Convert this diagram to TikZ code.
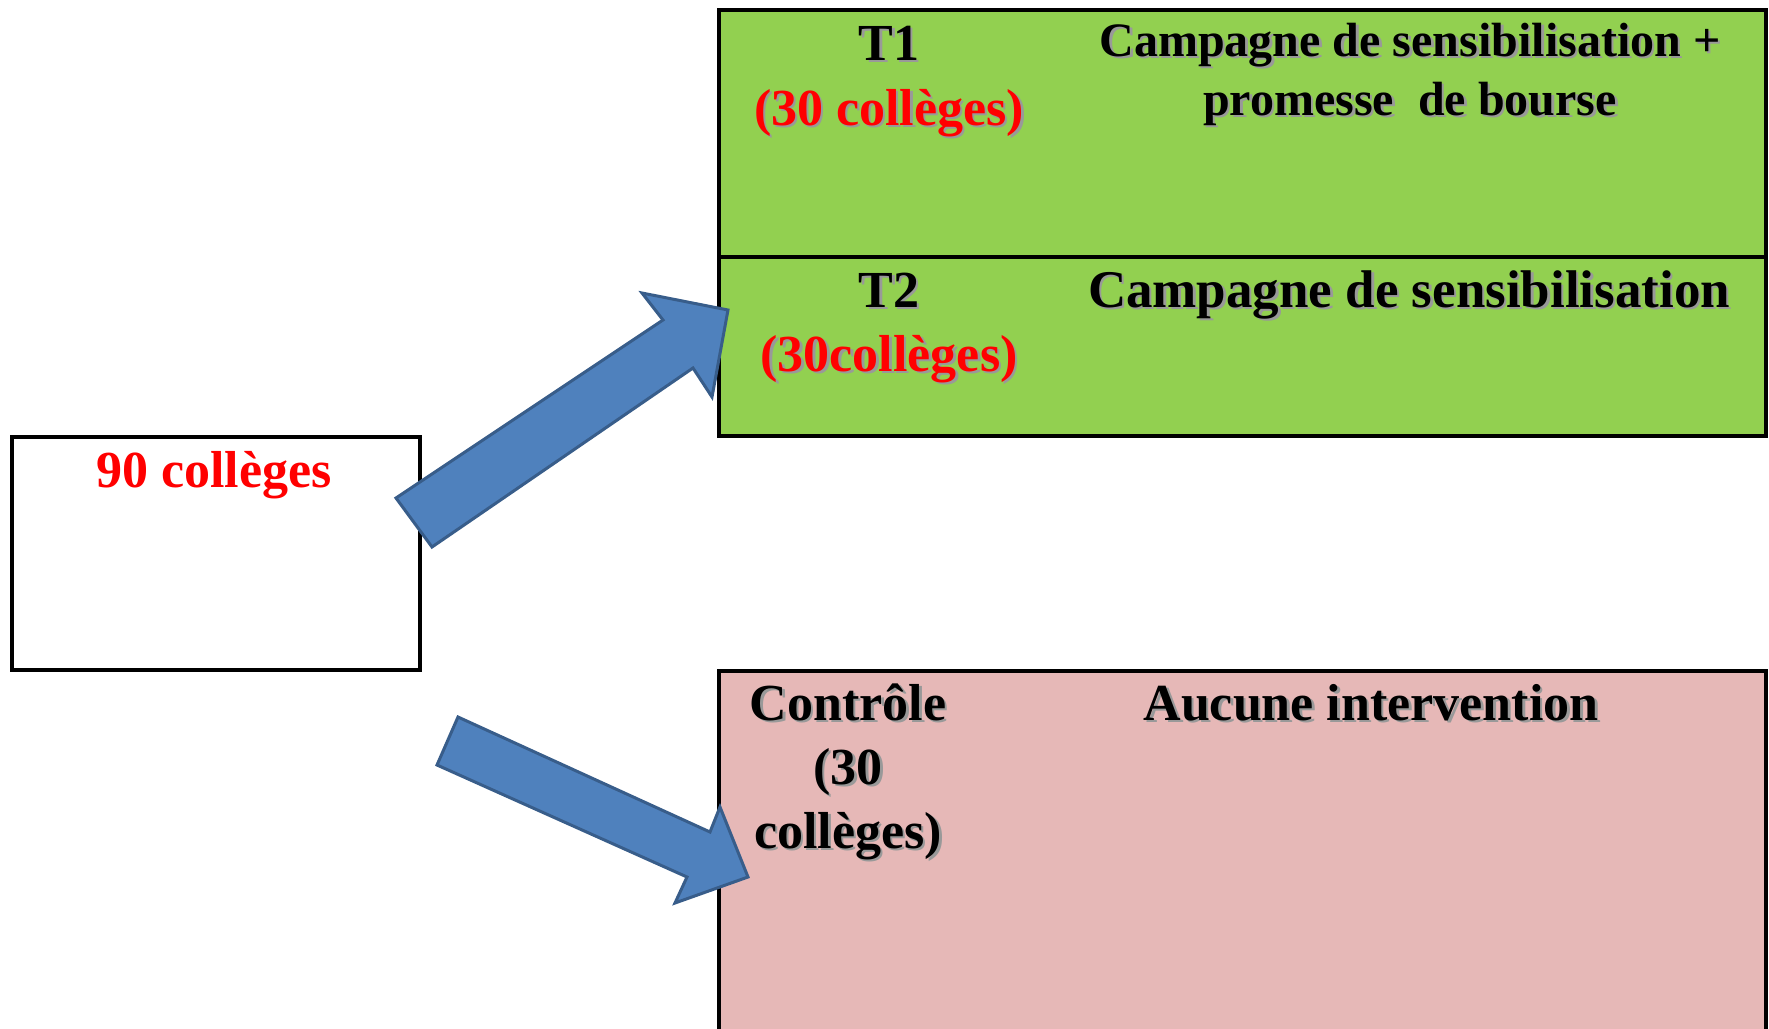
\documentclass[tikz,border=0pt]{standalone}
\usepackage{fontspec}
\setmainfont{Liberation Serif}
\definecolor{grn}{HTML}{92D050}
\definecolor{pnk}{HTML}{E6B8B7}
\definecolor{arrfill}{HTML}{4F81BD}
\definecolor{arrline}{HTML}{385D8A}
\definecolor{redtxt}{HTML}{FF0000}
\newcommand{\shd}[1]{\leavevmode\rlap{\kern2.5pt\raisebox{-2.5pt}{\textcolor{black!40}{#1}}}#1}
\begin{document}
\begin{tikzpicture}[x=1pt,y=-1pt,
  boxst/.style={draw=black,line width=3.5pt,inner sep=0pt,anchor=north west},
  txt/.style={inner sep=0pt,anchor=base,align=center,font=\fontsize{52}{64}\selectfont\bfseries},
  blockarrow/.style={fill=arrfill,draw=arrline,line width=3pt,line join=miter}]
\useasboundingbox (0,0) rectangle (1769,1028);
% boxes
\node[boxst,minimum width=408pt,minimum height=233pt] (src) at (10,435) {};
\node[boxst,fill=grn,minimum width=1047pt,minimum height=247pt] (t1) at (717,8) {};
\node[boxst,fill=grn,minimum width=1047pt,minimum height=179pt] (t2) at (717,255) {};
\node[boxst,fill=pnk,minimum width=1047pt,minimum height=380pt] (ctrl) at (717,669) {};
% arrows
\coordinate (ua1) at (396,498);
\coordinate (ua2) at (432,547);
\coordinate (ua3) at (693,368);
\coordinate (ua4) at (712,397);
\coordinate (uatip) at (728,310);
\coordinate (ua5) at (642,293);
\coordinate (ua6) at (663,320);
\draw[blockarrow] (ua1) -- (ua2) -- (ua3) -- (ua4) -- (uatip) -- (ua5) -- (ua6) -- cycle;
\coordinate (da1) at (458,717);
\coordinate (da2) at (710,832);
\coordinate (da3) at (720,807);
\coordinate (datip) at (748,877);
\coordinate (da4) at (675,903);
\coordinate (da5) at (687,877);
\coordinate (da6) at (437,765);
\draw[blockarrow] (da1) -- (da2) -- (da3) -- (datip) -- (da4) -- (da5) -- (da6) -- cycle;
% texts
\node[txt,text=redtxt] (srct) at (214,487) {90 collèges};
\node[txt] (t1a) at (889,125) {\shd{T1}\\[1pt]\textcolor{redtxt}{\shd{(30 collèges)}}};
\node[txt,font=\fontsize{48}{59}\selectfont\bfseries] (t1b) at (1410,115) {\shd{Campagne de sensibilisation +}\\\shd{promesse\ \ de bourse}};
\node[txt] (t2a) at (889,371) {\shd{T2}\\\textcolor{redtxt}{\shd{(30collèges)}}};
\node[txt,font=\fontsize{53}{64}\selectfont\bfseries] (t2b) at (1409,307) {\shd{Campagne de sensibilisation}};
\node[txt] (ca) at (848,848) {\shd{Contrôle}\\\shd{(30}\\\shd{collèges)}};
\node[txt] (cb) at (1371,720) {\shd{Aucune intervention}};
\end{tikzpicture}
\end{document}
